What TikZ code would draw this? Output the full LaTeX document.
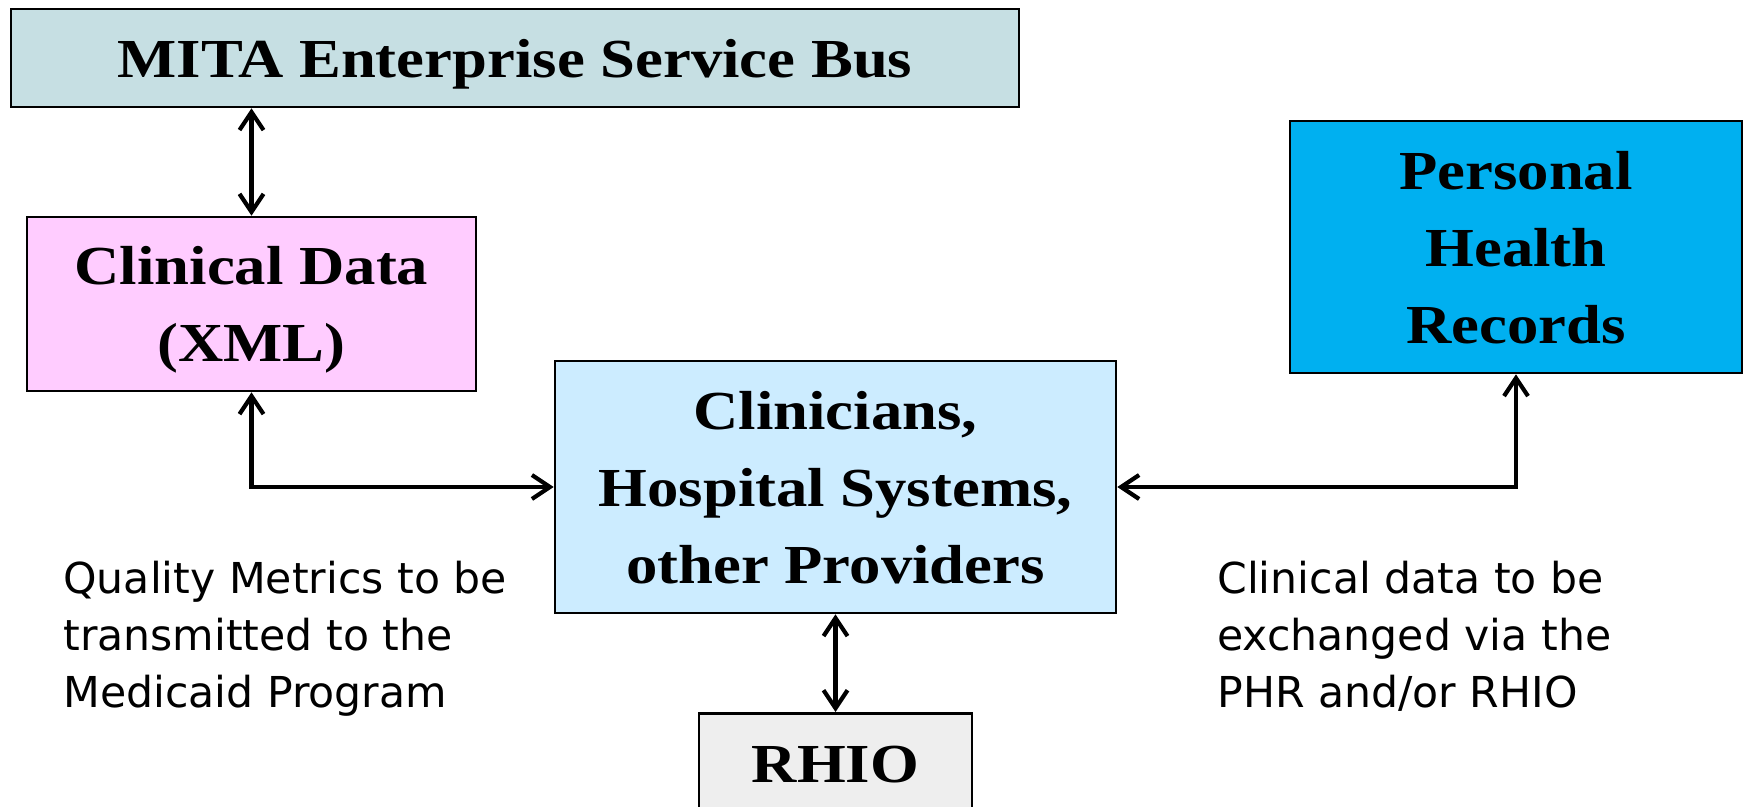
\documentclass[tikz,border=0pt]{standalone}
\usepackage{fontspec}
\usetikzlibrary{arrows.meta}
\newfontfamily\boxfont[FakeStretch=1.14]{Liberation Serif}
\newfontfamily\notefont{DejaVu Sans}
\definecolor{mitafill}{HTML}{C6DFE3}
\definecolor{clinfill}{HTML}{FFCCFF}
\definecolor{provfill}{HTML}{CCECFF}
\definecolor{phrfill}{HTML}{00B0F0}
\definecolor{rhiofill}{HTML}{EEEEEE}
\tikzset{
  boxnode/.style={draw=black, line width=1.3pt, align=center, inner sep=0pt,
    text depth=0pt,
    font={\boxfont\bfseries\fontsize{27.5pt}{38.5pt}\selectfont}},
  notetext/.style={align=left, inner sep=0pt, anchor=north west,
    font={\notefont\fontsize{21.3pt}{28.5pt}\selectfont}},
  arr/.style={line width=2.1pt,
    {Straight Barb[length=9pt,width=12pt,line width=2.1pt]}-{Straight Barb[length=9pt,width=12pt,line width=2.1pt]}}
}
\begin{document}
\begin{tikzpicture}[x=0.5pt,y=-0.5pt]
\clip (0,0) rectangle (1744,807);
\fill[white] (0,0) rectangle (1744,807);
\node[boxnode, fill=mitafill, minimum width=504pt, minimum height=49pt] (mita) at (515,58) {MITA Enterprise Service Bus};
\node[boxnode, fill=clinfill, minimum width=224.5pt, minimum height=87pt] (clin) at (251.5,304) {Clinical Data\\(XML)};
\node[boxnode, fill=provfill, minimum width=280.5pt, minimum height=126pt] (prov) at (835.5,487) {Clinicians,\\Hospital Systems,\\other Providers};
\node[boxnode, fill=phrfill, minimum width=226pt, minimum height=126pt] (phr) at (1516,247) {Personal\\Health\\Records};
\node[boxnode, fill=rhiofill, minimum width=136.5pt, minimum height=59pt, anchor=north] (rhio) at (835.5,712) {};
\node[font={\boxfont\bfseries\fontsize{27.5pt}{38.5pt}\selectfont}, inner sep=0pt, anchor=base] (rhiotext) at (835.5,782) {RHIO};
\node[notetext] (qm) at (63,561) {Quality Metrics to be\\transmitted to the\\Medicaid Program};
\node[notetext] (cd) at (1217,561) {Clinical data to be\\exchanged via the\\PHR and/or RHIO};
\draw[arr] (clin.north) -- (clin.north |- mita.south);
\draw[arr] (clin.south) |- (prov.west);
\draw[arr] (prov.east) -| (phr.south);
\draw[arr] (prov.south) -- (rhio.north);
\end{tikzpicture}
\end{document}
